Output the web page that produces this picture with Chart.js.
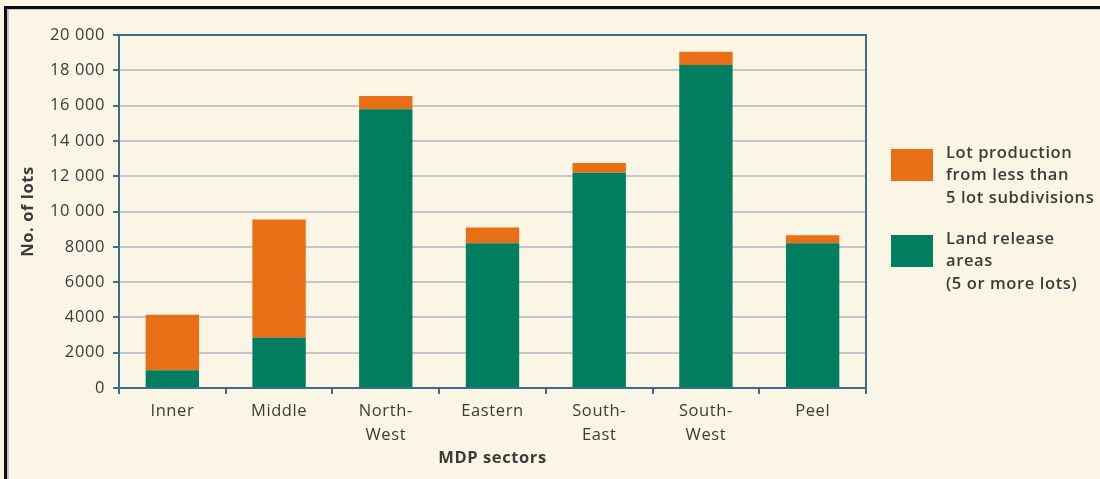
<!DOCTYPE html>
<html>
<head>
<meta charset="utf-8">
<title>Lot production by MDP sector</title>
<script src="https://cdn.jsdelivr.net/npm/chart.js@4"></script>
<style>
  html, body { margin: 0; padding: 0; background: #fbf5e6; }
  canvas { display: block; }
</style>
</head>
<body>
<canvas id="lots" width="1100" height="479"></canvas>
<script>
// sectors along the x axis (multi-line labels as arrays)
var sectors = [['Inner'], ['Middle'], ['North-', 'West'], ['Eastern'], ['South-', 'East'], ['South-', 'West'], ['Peel']];

// land release areas (5 or more lots)
var landRelease = [1000, 2850, 15800, 8200, 12200, 18300, 8200];
// lot production from less than 5 lot subdivisions
var smallLots = [3150, 6700, 750, 900, 550, 750, 450];

var yMin = 0, yMax = 20000, yStep = 2000;

var GREEN = '#007e5f';
var ORANGE = '#e86f16';
var AXIS_BLUE = '#3a6d90';
var TEXT = '#3b3b3b';
var FONT = '"Open Sans", "Noto Sans", sans-serif';
var FONT_SIZE = 16.5;
var TRACKING = '0.6px';

function fmtTick(v) {
    if (v < 10000) return String(v);
    var s = String(v);
    return s.slice(0, s.length - 3) + ' ' + s.slice(-3);
}

// slightly wider letter spacing for all canvas text
var tracking = {
    id: 'tracking',
    beforeUpdate: function (chart) { chart.ctx.letterSpacing = TRACKING; },
    beforeDraw: function (chart) { chart.ctx.letterSpacing = TRACKING; }
};

// background, page frame and plot frame
var framePlugin = {
    id: 'frame',
    beforeDraw: function (chart) {
        var ctx = chart.ctx;
        ctx.save();
        ctx.fillStyle = '#fbf5e6';
        ctx.fillRect(0, 0, chart.width, chart.height);
        ctx.fillStyle = '#0d0d0d';
        ctx.fillRect(4, 6, 3, chart.height - 6);
        ctx.fillRect(4, 6, chart.width - 4, 3);
        ctx.fillStyle = '#b7c6cf';
        ctx.fillRect(7, 9, 2, chart.height - 9);
        ctx.fillRect(7, 9, chart.width - 7, 1);
        ctx.restore();
    },
    afterDatasetsDraw: function (chart) {
        var a = chart.chartArea;
        var ctx = chart.ctx;
        ctx.save();
        ctx.strokeStyle = AXIS_BLUE;
        ctx.lineWidth = 2;
        ctx.strokeRect(a.left, a.top, a.right - a.left, a.bottom - a.top);
        ctx.restore();
    }
};

// legend on the right with wrapped labels, top dataset first
var sideLegend = {
    id: 'sideLegend',
    afterDraw: function (chart) {
        var ctx = chart.ctx;
        var sets = chart.data.datasets.slice().reverse();
        var x = 891, y = 149, boxW = 42, boxH = 32, lineH = 22.5;
        ctx.save();
        ctx.font = '600 ' + FONT_SIZE + 'px ' + FONT;
        ctx.textBaseline = 'middle';
        ctx.textAlign = 'left';
        sets.forEach(function (ds, i) {
            var top = y + i * 86;
            ctx.fillStyle = ds.backgroundColor;
            ctx.fillRect(x, top, boxW, boxH);
            ctx.fillStyle = TEXT;
            ds.label.split('\n').forEach(function (line, j) {
                ctx.fillText(line, x + 55, top + 4 + j * lineH);
            });
        });
        ctx.restore();
    }
};

new Chart(document.getElementById('lots'), {
    type: 'bar',
    data: {
        labels: sectors,
        datasets: [
            {
                label: 'Land release\nareas\n(5 or more lots)',
                data: landRelease,
                backgroundColor: GREEN,
                borderWidth: 0
            },
            {
                label: 'Lot production\nfrom less than\n5 lot subdivisions',
                data: smallLots,
                backgroundColor: ORANGE,
                borderWidth: 0
            }
        ]
    },
    options: {
        responsive: false,
        animation: false,
        categoryPercentage: 1,
        barPercentage: 0.5,
        layout: { padding: { left: 8, right: 234, top: 35, bottom: 0 } },
        plugins: {
            legend: { display: false },
            tooltip: { enabled: false }
        },
        scales: {
            x: {
                stacked: true,
                grid: {
                    drawOnChartArea: false,
                    drawTicks: true,
                    tickLength: 6,
                    tickColor: AXIS_BLUE,
                    lineWidth: 2
                },
                border: { display: true, color: AXIS_BLUE, width: 2 },
                ticks: {
                    color: TEXT,
                    font: { family: FONT, size: FONT_SIZE, lineHeight: 1.45 },
                    padding: 5,
                    maxRotation: 0,
                    autoSkip: false
                },
                title: {
                    display: true,
                    text: 'MDP sectors',
                    color: TEXT,
                    font: { family: FONT, size: FONT_SIZE, weight: 'bold' },
                    padding: { top: 0, bottom: 11 }
                },
                afterFit: function (axis) { axis.height = 91; }
            },
            y: {
                stacked: true,
                min: yMin,
                max: yMax,
                grid: {
                    color: 'rgba(175, 182, 192, 0.75)',
                    lineWidth: 2,
                    tickLength: 6,
                    tickColor: AXIS_BLUE
                },
                border: { display: true, color: AXIS_BLUE, width: 2 },
                ticks: {
                    stepSize: yStep,
                    color: TEXT,
                    font: { family: FONT, size: FONT_SIZE },
                    padding: 8,
                    callback: function (v) { return fmtTick(v); }
                },
                title: {
                    display: true,
                    text: 'No. of lots',
                    color: TEXT,
                    font: { family: FONT, size: FONT_SIZE, weight: 'bold' },
                    padding: { top: 10, bottom: 0 }
                },
                afterFit: function (axis) { axis.width = 111; }
            }
        }
    },
    plugins: [tracking, framePlugin, sideLegend]
});
</script>
</body>
</html>
